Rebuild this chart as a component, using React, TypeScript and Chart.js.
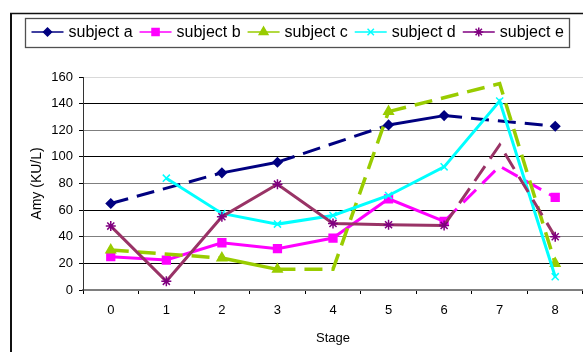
import React, { useEffect, useRef } from 'react';
import { Chart, registerables } from 'chart.js';
import { drawPoint } from 'chart.js/helpers';

Chart.register(...registerables);

const FONT = '"Liberation Sans", Arial, Helvetica, sans-serif';

// Stage categories on the x axis
const stages = ['0', '1', '2', '3', '4', '5', '6', '7', '8'];

// Amylase readings (KU/L) per subject; null = no reading at that stage
const subjectA = [65, null, 88, 96, null, 124, 131, null, 123];
const subjectB = [25, 22.5, 35.5, 31, 39, 68.5, 51.5, 93, 69.5];
const subjectC = [30, null, 24, 15.5, 15.5, 134, null, 155, 20];
const subjectD = [null, 84, 57.5, 49.5, 56, 71, 92.5, 142, 10];
const subjectE = [48, 6.5, 55, 79.5, 50, 49, 48.5, 109, 40];

// 1 = measured point (drawn with a marker), 0 = estimated point (no marker)
const markedA = [1, 1, 1, 1, 1, 1, 1, 1, 1];
const markedB = [1, 1, 1, 1, 1, 1, 1, 0, 1];
const markedC = [1, 1, 1, 1, 0, 1, 1, 0, 1];
const markedD = [1, 1, 1, 1, 1, 1, 1, 1, 1];
const markedE = [1, 1, 1, 1, 1, 1, 1, 0, 1];

const seriesNames = ['subject a', 'subject b', 'subject c', 'subject d', 'subject e'];

// Axis range
const yMin = 0;
const yMax = 160;
const yStep = 20;

type Series = {
  name: string;
  data: (number | null)[];
  marked: number[];
  line: string;
  marker: string;
  legendLine: string;
  style: string;
  radius: number;
  legendRadius: number;
  width: number;
};

const series: Series[] = [
  { name: seriesNames[0], data: subjectA, marked: markedA, line: '#000080', marker: '#000080', legendLine: '#000080', style: 'rectRot', radius: 4.5, legendRadius: 4, width: 3 },
  { name: seriesNames[1], data: subjectB, marked: markedB, line: '#FF00FF', marker: '#FF00FF', legendLine: '#FF00FF', style: 'rect', radius: 5.5, legendRadius: 5, width: 3 },
  { name: seriesNames[2], data: subjectC, marked: markedC, line: '#99CC00', marker: '#99CC00', legendLine: '#99CC00', style: 'triangle', radius: 5.5, legendRadius: 5, width: 3.5 },
  { name: seriesNames[3], data: subjectD, marked: markedD, line: '#00FFFF', marker: '#00FFFF', legendLine: '#00FFFF', style: 'crossRot', radius: 5, legendRadius: 4.5, width: 3 },
  { name: seriesNames[4], data: subjectE, marked: markedE, line: '#993366', marker: '#800080', legendLine: '#800080', style: 'star', radius: 5, legendRadius: 4.5, width: 3 },
];

const DASH = [18, 9];

// Frame around the chart and the boxed legend at the top
const frameLegend = {
  id: 'frameLegend',
  afterDraw(chart: Chart) {
    const ctx = chart.ctx;
    ctx.save();
    ctx.strokeStyle = '#111';
    ctx.lineWidth = 2;
    ctx.beginPath();
    ctx.moveTo(11, chart.height);
    ctx.lineTo(11, 13.5);
    ctx.stroke();
    ctx.lineWidth = 1.5;
    ctx.beginPath();
    ctx.moveTo(10, 13.5);
    ctx.lineTo(chart.width, 13.5);
    ctx.stroke();

    // legend box
    ctx.strokeStyle = '#505050';
    ctx.lineWidth = 1.3;
    ctx.strokeRect(25.5, 18.5, 544, 29);

    ctx.font = `16px ${FONT}`;
    ctx.textBaseline = 'middle';
    ctx.textAlign = 'left';
    const cy = 32;
    let x = 31.5;
    series.forEach((s) => {
      ctx.strokeStyle = s.legendLine;
      ctx.lineWidth = 1.5;
      ctx.setLineDash([]);
      ctx.beginPath();
      ctx.moveTo(x, cy);
      ctx.lineTo(x + 32, cy);
      ctx.stroke();
      ctx.fillStyle = s.marker;
      ctx.strokeStyle = s.marker;
      ctx.lineWidth = 1.5;
      drawPoint(ctx, { pointStyle: s.style, radius: s.legendRadius, rotation: 0, borderWidth: 1.5 } as any, x + 16, cy);
      ctx.fillStyle = '#000';
      ctx.fillText(s.name, x + 37, cy + 0.5);
      x += 37 + ctx.measureText(s.name).width + 7;
    });
    ctx.restore();
  },
};

function gridColor(v: number): string {
  if (v === yMax) return '#d9d9d9';
  if (v % 40 === 0) return '#7f7f7f';
  return '#000000';
}

export default function App() {
  const canvasRef = useRef<HTMLCanvasElement | null>(null);

  useEffect(() => {
    const canvas = canvasRef.current;
    if (!canvas) return;
    Chart.defaults.font.family = FONT;

    const datasets = series.map((s, i) => ({
      label: s.name,
      data: s.data,
      borderColor: s.line,
      backgroundColor: s.marker,
      borderWidth: s.width,
      pointStyle: s.style,
      pointRadius: s.marked.map((m) => (m ? s.radius : 0)),
      pointHoverRadius: s.marked.map((m) => (m ? s.radius : 0)),
      pointBackgroundColor: s.marker,
      pointBorderColor: s.marker,
      pointBorderWidth: 1.5,
      tension: 0,
      spanGaps: true,
      fill: false,
      order: series.length - i,
      segment: {
        // dashed where the segment bridges a missing stage or touches an estimated point
        borderDash: (ctx: any) => {
          const i0 = ctx.p0DataIndex;
          const i1 = ctx.p1DataIndex;
          const bridged = s.data[i0] == null || i1 - i0 > 1;
          return bridged || !s.marked[i0] || !s.marked[i1] ? DASH : undefined;
        },
      },
    }));

    const chart = new Chart(canvas, {
      type: 'line',
      data: { labels: stages, datasets },
      options: {
        responsive: false,
        animation: false,
        devicePixelRatio: 1,
        layout: { padding: { top: 77, right: 4, left: 0, bottom: 0 } },
        plugins: { legend: { display: false }, tooltip: { enabled: false } },
        scales: {
          x: {
            type: 'category',
            offset: true,
            grid: {
              offset: true,
              drawOnChartArea: false,
              drawTicks: true,
              tickLength: 4,
              tickColor: '#000',
            },
            border: { display: true, color: '#7f7f7f', width: 1.5 },
            ticks: { color: '#000', font: { size: 13, family: FONT }, padding: 9, maxRotation: 0 },
            title: { display: true, text: 'Stage', color: '#000', font: { size: 13, family: FONT }, padding: { top: 0, bottom: 6 } },
            afterFit: (scale: any) => {
              scale.height = 62;
            },
          },
          y: {
            min: yMin,
            max: yMax,
            ticks: { stepSize: yStep, color: '#000', font: { size: 13, family: FONT }, padding: 6 },
            grid: {
              color: (ctx: any) => gridColor(ctx.tick ? ctx.tick.value : 0),
              lineWidth: 1,
              drawTicks: true,
              tickLength: 4,
              tickColor: '#000',
            },
            border: { display: true, color: '#333', width: 1 },
            title: { display: true, text: 'Amy (KU/L)', color: '#000', font: { size: 14, family: FONT }, padding: { top: 28.6, bottom: 0 } },
            afterFit: (scale: any) => {
              scale.width = 83;
            },
          },
        },
      },
      plugins: [frameLegend],
    });

    return () => chart.destroy();
  }, []);

  return (
    <div style={{ position: 'absolute', left: 0, top: 0, width: 583, height: 352, overflow: 'hidden', background: '#fff' }}>
      <canvas ref={canvasRef} width={590} height={352} style={{ display: 'block', width: 590, height: 352 }} />
    </div>
  );
}
